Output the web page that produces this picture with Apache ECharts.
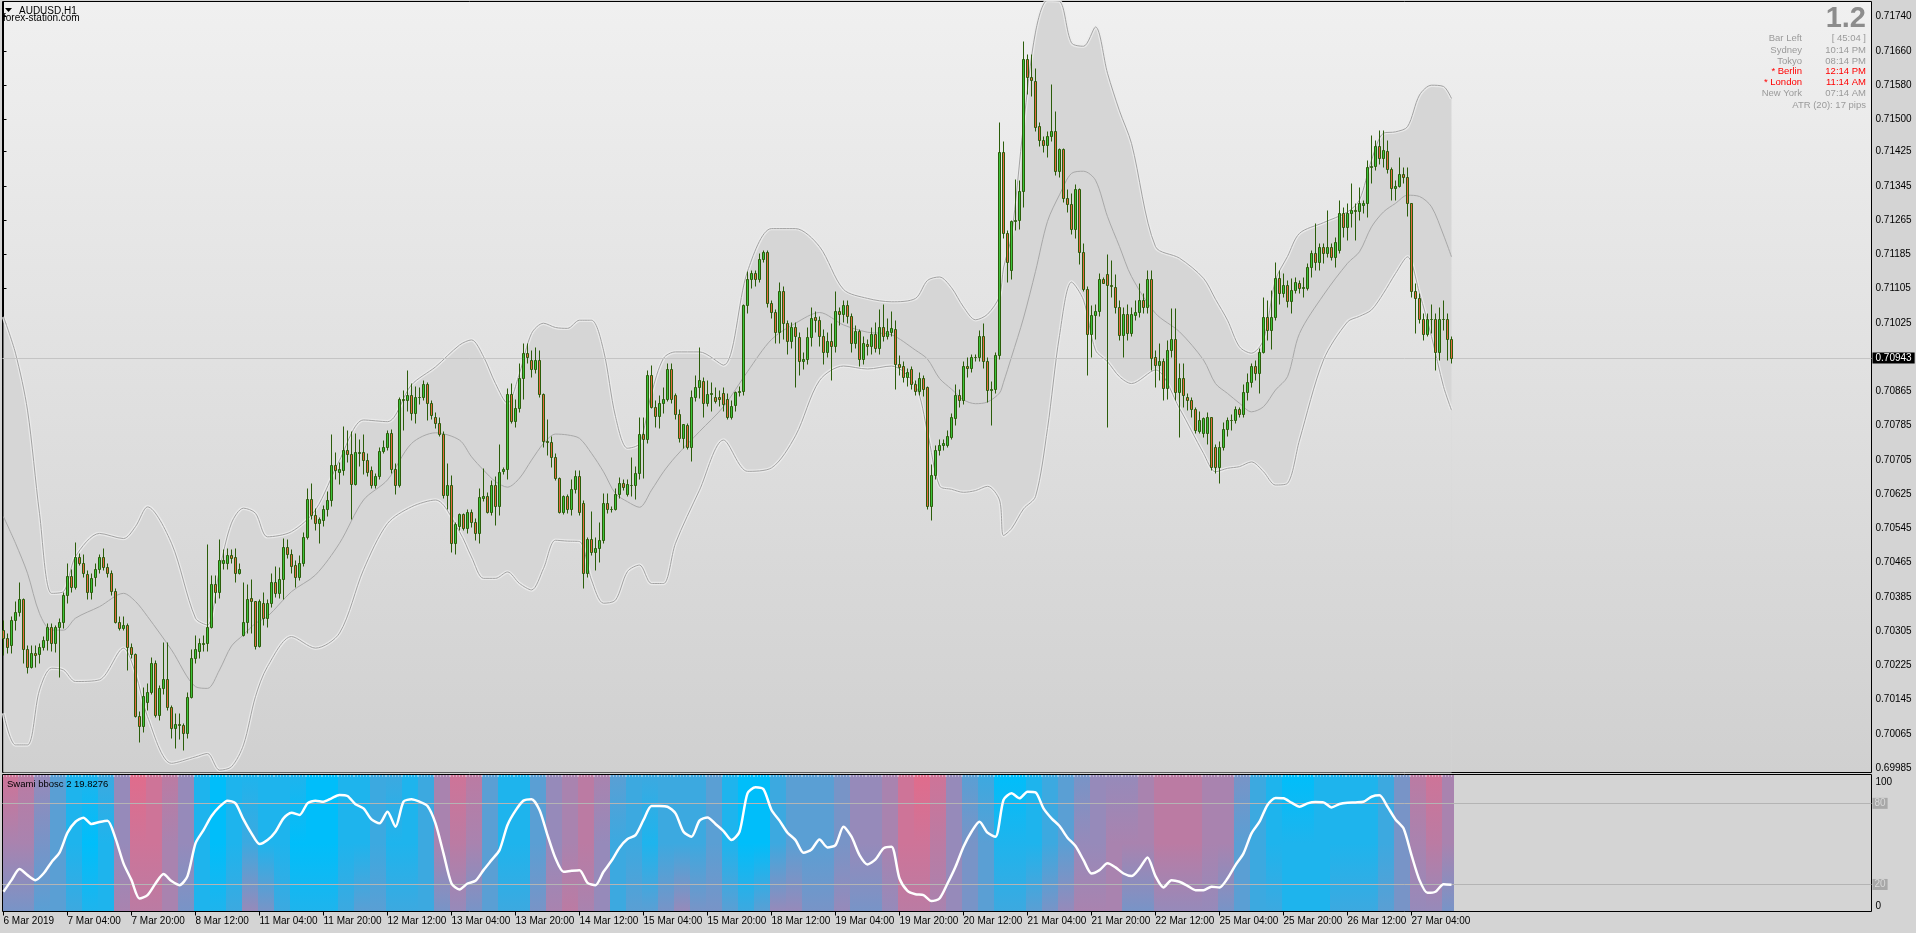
<!DOCTYPE html>
<html><head><meta charset="utf-8">
<script src="https://cdn.jsdelivr.net/npm/echarts@6/dist/echarts.min.js"></script>
<style>html,body{margin:0;padding:0;background:#d4d4d4;overflow:hidden}#c{width:1916px;height:933px}</style>
</head><body><div id="c"></div>
<script>
// ---------- DATA (prices stored as points above BASE; 1 point = 0.00001) ----------
const BASE = 0.70000, POINT = 0.00001;
const symbolTitle = 'AUDUSD,H1';
const siteTitle = 'forex-station.com';
const spreadValue = '1.2';
const infoRows = [['Bar Left','[ 45:04 ]',0],['Sydney','10:14 PM',0],['Tokyo','08:14 PM',0],['* Berlin','12:14 PM',1],['* London','11:14 AM',1],['New York','07:14 AM',0]];
const atrText = 'ATR (20): 17 pips';
const oscName = 'Swami bbosc 2';
const oscLastValue = 19.8276;
const currentPrice = 0.70943;
const priceTicks = [0.71740,0.71660,0.71580,0.71500,0.71425,0.71345,0.71265,0.71185,0.71105,0.71025,0.70865,0.70785,0.70705,0.70625,0.70545,0.70465,0.70385,0.70305,0.70225,0.70145,0.70065,0.69985];
const timeLabels = ['6 Mar 2019','7 Mar 04:00','7 Mar 20:00','8 Mar 12:00','11 Mar 04:00','11 Mar 20:00','12 Mar 12:00','13 Mar 04:00','13 Mar 20:00','14 Mar 12:00','15 Mar 04:00','15 Mar 20:00','18 Mar 12:00','19 Mar 04:00','19 Mar 20:00','20 Mar 12:00','21 Mar 04:00','21 Mar 20:00','22 Mar 12:00','25 Mar 04:00','25 Mar 20:00','26 Mar 12:00','27 Mar 04:00'];
const timeLabelBars = [0,16,32,48,64,80,96,112,128,144,160,176,192,208,224,240,256,272,288,304,320,336,352];
const oscLevels = [80,20];
const oscAxisLabels = [0,100];

const opens = [307,288,272,331,350,379,264,222,254,251,
268,284,315,276,315,327,389,434,407,477,
465,438,397,432,449,477,454,441,399,327,
311,319,268,251,106,82,140,163,231,109,
173,192,128,78,88,85,66,152,241,259,
275,278,314,415,397,463,463,482,477,441,
296,327,381,374,270,371,335,371,420,393,
426,502,486,459,432,465,525,613,576,558,
564,591,611,693,677,681,729,719,648,720,
722,704,680,645,667,726,736,767,683,645,
846,845,856,815,851,852,883,837,804,790,
765,622,646,511,551,578,545,584,560,533,
615,620,584,646,597,679,683,859,796,825,
895,954,938,918,938,859,750,746,711,662,
584,620,589,636,667,605,441,520,490,498,
518,605,591,591,626,651,626,646,645,675,
765,753,903,829,807,837,848,916,856,813,
757,787,734,851,874,890,837,858,852,852,
860,846,804,832,863,865,1066,1128,1141,1128,
1174,1191,1072,1051,1003,1099,1024,982,1016,991,
936,941,991,1038,1032,995,957,982,970,1053,
1045,1066,1041,978,1005,941,976,970,999,966,
1016,995,1003,1010,928,924,899,916,882,865,
896,874,598,669,728,740,740,759,803,857,
845,924,920,945,944,993,935,867,871,949,
1424,1235,1149,1262,1266,1333,1641,1600,1589,1485,
1452,1441,1462,1474,1379,1430,1316,1303,1243,1337,
1191,1105,999,1043,1053,1127,1138,1113,1109,1061,
997,1045,1001,1043,1051,1078,1063,1127,944,926,
936,872,961,986,864,895,852,845,823,773,
767,767,804,736,689,736,776,798,799,823,
812,864,887,924,908,957,1039,1008,1039,1129,
1094,1113,1077,1102,1119,1106,1106,1156,1187,1167,
1203,1187,1203,1178,1195,1282,1249,1281,1288,1285,
1300,1304,1388,1391,1438,1409,1427,1384,1339,1345,
1372,1365,1304,1100,1082,1033,998,1033,1035,957,
1035,1035,986];
const highs = [331,300,339,374,420,381,272,272,272,278,
293,323,323,319,335,397,465,449,512,488,
486,448,440,463,486,500,463,448,405,339,
339,323,276,254,117,175,183,245,237,179,
280,280,132,113,114,89,163,262,296,288,
296,508,436,436,519,496,498,496,498,465,
420,415,426,376,379,397,379,440,457,454,
522,519,496,472,482,536,639,651,592,572,
600,631,766,722,700,785,774,773,767,754,
766,720,690,673,736,751,774,778,697,852,
868,915,884,878,876,891,887,845,817,804,
773,697,670,560,580,580,590,590,568,640,
686,630,658,667,741,689,872,884,848,930,
977,977,961,969,961,860,800,760,720,665,
623,625,660,682,682,611,525,585,525,560,
627,627,598,640,665,660,660,712,690,806,
806,915,926,845,856,876,930,930,860,823,
788,790,868,903,968,899,891,887,876,869,
874,862,845,866,878,1070,1145,1149,1149,1187,
1195,1195,1078,1058,1120,1112,1032,1028,1028,1003,
957,1016,1062,1053,1041,1011,1003,1024,1099,1062,
1078,1078,1049,1020,1011,995,986,1016,1028,1058,
1070,1036,1053,1032,949,936,920,924,891,911,
903,878,694,740,753,753,774,815,882,870,
936,945,953,953,1007,1024,945,890,957,1495,
1449,1241,1266,1362,1358,1683,1654,1654,1620,1495,
1462,1474,1583,1520,1433,1433,1337,1328,1349,1341,
1212,1112,1066,1070,1141,1133,1186,1172,1140,1078,
1063,1070,1063,1078,1117,1094,1148,1148,962,977,
942,985,1059,1059,930,930,860,852,829,820,
806,817,806,743,750,794,806,812,831,829,
883,907,930,938,965,1086,1078,1102,1168,1148,
1141,1125,1129,1133,1125,1133,1164,1195,1257,1211,
1211,1288,1211,1226,1312,1296,1304,1351,1304,1343,
1312,1405,1463,1452,1475,1475,1452,1390,1358,1413,
1390,1389,1304,1117,1094,1047,1047,1070,1048,1063,
1078,1047,993];
const lows = [249,253,253,307,339,230,208,218,222,230,
261,261,259,257,198,311,370,397,402,459,
432,379,379,410,441,448,432,389,323,307,
307,214,241,105,46,70,120,159,105,97,
159,120,54,31,52,27,54,148,231,241,
259,259,311,371,382,451,451,463,420,438,
293,300,300,262,268,319,315,362,385,382,
379,475,441,407,424,457,519,566,541,510,
551,573,598,660,648,670,700,567,645,690,
672,667,640,640,660,720,728,675,625,641,
774,820,797,792,835,844,798,800,780,760,
615,591,490,486,540,541,533,548,518,510,
608,580,575,553,577,672,661,790,782,816,
846,930,899,908,852,735,717,689,658,580,
578,581,576,627,577,406,432,482,448,466,
510,580,582,588,616,635,620,620,614,660,
662,745,825,782,780,815,843,838,800,747,
733,731,703,843,850,806,830,820,837,830,
820,801,800,820,853,857,1049,1107,1112,1120,
1166,1062,1036,978,978,986,953,966,874,903,
916,928,970,1003,970,928,945,891,957,1020,
1028,1024,957,966,924,928,949,953,957,953,
982,986,995,871,903,886,878,870,857,857,
853,590,565,660,715,728,735,753,786,828,
836,899,911,936,936,920,840,786,861,941,
1224,1120,1128,1241,1245,1295,1560,1554,1474,1437,
1424,1412,1449,1370,1366,1308,1283,1233,1224,1162,
1099,903,945,986,1041,1117,782,1086,1047,985,
946,985,993,1031,1039,1047,1047,915,876,891,
845,846,946,845,758,829,821,806,767,767,
759,743,681,674,650,728,760,774,790,806,
806,845,876,891,862,954,985,963,1031,1070,
1086,1063,1047,1094,1094,1086,1102,1133,1148,1148,
1164,1179,1172,1156,1187,1226,1218,1249,1218,1265,
1281,1273,1351,1382,1397,1390,1374,1312,1312,1343,
1351,1274,1085,1000,1024,985,993,1000,914,938,
1008,938,930];
const closes = [288,268,331,350,379,262,222,254,249,268,
284,315,276,315,327,389,434,407,477,465,
440,397,430,449,477,454,441,399,327,311,
319,268,251,106,82,153,163,231,109,173,
192,127,78,88,86,66,152,241,262,276,
278,314,415,397,472,472,482,475,441,451,
327,379,374,270,374,335,371,420,393,426,
502,486,457,432,465,525,613,576,558,566,
591,611,693,681,683,729,719,648,722,724,
704,677,645,667,726,736,767,683,645,846,
845,856,815,851,852,883,837,809,790,765,
622,646,511,555,578,545,584,560,533,619,
620,584,646,597,677,683,859,796,825,895,
954,944,918,938,859,750,746,711,662,584,
620,589,636,667,584,441,520,490,498,518,
605,589,591,626,650,642,648,645,675,765,
753,903,829,807,837,848,916,848,813,757,
788,734,851,874,891,837,859,860,843,846,
835,804,830,863,865,1066,1128,1141,1128,1174,
1191,1072,1051,1003,1099,1024,982,1016,995,935,
941,991,1036,1032,995,957,982,970,1053,1045,
1066,1041,978,1005,941,978,971,999,966,1016,
995,1005,1013,928,921,899,911,882,865,896,
870,598,669,728,740,744,761,804,857,845,
924,920,945,944,993,935,867,871,949,1424,
1235,1168,1262,1265,1333,1641,1600,1591,1483,1452,
1441,1462,1474,1379,1430,1316,1303,1243,1337,1191,
1105,999,1043,1053,1128,1119,1113,1111,1061,997,
1045,1001,1045,1051,1078,1063,1127,942,926,936,
872,961,986,864,895,856,845,823,774,798,
802,804,687,689,736,778,798,799,823,812,
864,887,924,908,957,1039,1008,1039,1129,1094,
1113,1077,1102,1121,1106,1108,1156,1187,1167,1203,
1187,1203,1178,1214,1282,1249,1281,1288,1285,1304,
1304,1388,1391,1438,1409,1429,1384,1339,1345,1372,
1365,1304,1100,1082,1033,998,1033,1035,957,1035,
1033,986,942];

// Bollinger bands, read at these bar indices
const bandIdx = [0,3,6,9,12,15,18,24,30,33,36,42,48,51,54,57,60,63,66,72,78,84,90,96,102,108,114,117,120,123,126,129,132,135,138,141,144,147,150,153,156,159,162,165,168,174,180,186,192,198,204,210,216,222,228,231,234,237,240,243,246,249,250,252,255,258,261,264,267,270,273,276,279,282,288,294,300,303,306,309,312,315,318,321,324,330,336,339,342,345,348,351,354,357,360,362];
const bandUpper = [1039,954,821,580,393,397,479,533,521,549,595,510,335,319,448,557,592,580,525,537,588,704,798,794,880,922,973,985,946,883,837,907,1000,1024,1014,1012,1031,1031,961,806,732,743,860,942,957,957,926,1145,1245,1245,1203,1103,1082,1074,1082,1124,1132,1107,1062,1032,1045,1087,1153,1228,1487,1704,1778,1776,1679,1671,1716,1608,1520,1444,1203,1176,1129,1080,1031,969,954,985,1125,1180,1234,1259,1284,1312,1405,1468,1471,1483,1557,1580,1577,1549];
const bandMid = [572,510,440,346,307,307,335,362,393,374,339,261,175,171,214,270,296,323,339,397,436,510,611,658,743,768,751,712,681,654,641,662,704,743,765,763,755,720,677,626,607,594,634,677,712,771,829,911,986,1024,1049,1020,1003,997,961,940,895,870,845,836,840,861,886,945,1036,1145,1262,1324,1374,1379,1358,1273,1203,1133,1047,1004,938,883,860,837,817,829,868,899,1000,1090,1164,1191,1249,1284,1304,1323,1320,1296,1230,1179];
const bandLower = [113,39,39,167,218,214,187,191,265,206,105,-4,11,19,-20,-12,39,152,222,292,265,300,448,556,595,611,537,478,428,428,443,416,401,451,517,515,514,424,370,377,444,459,416,416,510,634,751,678,686,761,890,924,917,924,878,769,644,636,629,633,643,611,528,544,590,619,778,995,1120,1078,961,934,899,883,915,825,720,677,685,689,700,677,646,650,751,938,1027,1040,1055,1094,1140,1179,1094,993,876,821];

// Oscillator line, one value every 2 bars
const oscStep = 2;
const oscValues = [14.6,23.2,31.4,26.9,23.2,28.1,36.5,43.5,58.3,66.4,
69.4,64.7,66.2,67.2,54.1,35.6,23.2,9.6,12.1,20.7,
27.7,22.5,19.5,26.2,50.4,60.2,70.6,77.5,82.0,80.0,
68.1,57.8,49.9,52.8,59.0,68.9,73.1,71.4,80.0,82.0,
81.2,83.7,86.2,85.4,79.3,76.3,68.1,65.2,73.8,62.7,
81.2,83.0,81.2,78.0,65.2,43.0,20.7,16.3,20.7,22.7,
30.6,38.0,45.4,64.0,74.6,82.0,83.0,75.1,56.5,39.3,
29.4,30.1,30.6,21.2,19.5,29.4,37.5,47.2,53.6,56.5,
67.7,78.0,78.0,77.5,72.6,59.0,55.3,67.2,69.6,64.7,
59.5,52.8,59.0,87.4,91.9,90.4,75.1,67.2,58.3,52.8,
43.5,45.9,53.3,47.4,49.1,62.7,55.3,41.7,34.8,38.5,
46.7,47.9,24.4,15.3,12.8,12.1,7.7,9.6,20.7,33.1,
47.9,59.0,66.4,58.3,55.3,82.5,87.4,83.7,88.6,88.1,
76.3,68.9,63.2,54.6,48.4,38.0,28.1,30.6,35.6,32.6,
28.1,26.2,31.9,40.0,26.2,17.8,23.2,22.0,19.0,15.8,
15.8,18.3,17.8,24.4,34.3,43.0,57.8,66.4,78.8,84.0,
83.7,80.5,77.5,80.0,81.0,80.7,77.0,79.5,80.5,80.7,
81.2,84.9,85.9,77.5,68.1,61.5,41.7,23.2,13.8,14.6,
20.2,19.8];

// Swami heat map: level 0 (bullish blue) .. 9 (bearish pink), one column per 4 bars; top / middle / bottom rows
const heatStep = 4;
const heatTop = [8,7,5,3,1,1,2,5,9,8, 7,5,1,0,1,1,1,1,1,0, 0,1,1,2,2,1,2,6,8,7, 3,1,1,3,5,6,7,6,3,2, 2,2,2,2,3,1,0,0,2,3, 3,3,4,5,5,6,8,9,8,5, 3,2,0,0,1,2,3,4,5,5, 5,6,7,7,7,6,6,4,2,1, 0,0,1,1,1,1,2,4,7,8, 6];
const heatMid = [6,6,4,3,1,0,1,5,8,8, 6,5,1,0,1,2,1,1,0,0, 0,1,1,2,1,1,2,6,7,6, 3,1,1,3,5,6,7,5,2,2, 1,2,2,2,3,1,0,0,2,3, 3,3,4,5,5,6,8,8,7,5, 4,3,1,1,1,2,3,5,5,6, 6,6,7,7,7,6,6,3,2,1, 1,1,1,1,1,1,2,4,6,7, 6];
const heatBot = [4,4,3,3,2,1,1,6,7,7, 6,4,1,1,2,5,4,2,1,1, 1,2,3,3,2,2,2,4,5,4, 3,2,2,4,6,7,6,5,2,3, 3,4,5,4,4,3,2,3,5,5, 4,4,5,4,4,5,7,7,6,5, 4,3,2,2,3,4,5,6,6,6, 4,4,5,5,5,5,4,3,2,2, 1,1,1,2,2,2,3,4,5,5, 4];

// ---------- RENDERING ----------
const px = o => BASE + o * POINT;
const lastBar = opens.length - 1;
const FONT = '"Liberation Sans", Arial, sans-serif';
const PRICE_MAX = 0.717755, PRICE_MIN = 0.699745;
const mainBg = {type:'linear', x:0, y:1.5, x2:0, y2:772.5, global:true,
  colorStops:[{offset:0,color:'#f0f0f0'},{offset:1,color:'#d0d0d0'}]};
const HEAT_STOPS = [[0,[0,190,250]],[5,[150,138,186]],[9,[224,108,140]]];
function heatColor(level){
  for (let j=0;j<HEAT_STOPS.length-1;j++){
    const a=HEAT_STOPS[j], b=HEAT_STOPS[j+1];
    if (level<=b[0]){ const t=(level-a[0])/(b[0]-a[0]);
      return 'rgb('+a[1].map((c,m)=>Math.round(c+(b[1][m]-c)*t)).join(',')+')'; }
  }
  return 'rgb('+HEAT_STOPS[HEAT_STOPS.length-1][1].join(',')+')';
}
const bandPts = arr => bandIdx.map((b,k)=>[b, px(arr[k])]);
const candleData = opens.map((o,i)=>[i, px(o), px(closes[i]), px(lows[i]), px(highs[i])]);
const heatData = heatTop.map((t,k)=>[k*heatStep, t, heatMid[k], heatBot[k]]);
const oscData = oscValues.map((v,k)=>[k*oscStep, v]);

const bandLine = (data, color, width, z) => ({type:'line', xAxisIndex:0, yAxisIndex:0, data, smooth:0.3,
  symbol:'none', showSymbol:false, silent:true, z, lineStyle:{color, width}});

const graphics = [
  {type:'polygon', shape:{points:[[5,8],[12,8],[8.5,12]]}, style:{fill:'#000'}, z:100},
  {type:'text', x:19, y:11, z:100, style:{text:symbolTitle, fill:'#000', font:'10px '+FONT, textAlign:'left', textVerticalAlign:'middle', align:'left', verticalAlign:'middle'}},
  {type:'text', x:3, y:18.5, z:100, style:{text:siteTitle, fill:'#000', font:'10px '+FONT, textAlign:'left', textVerticalAlign:'middle', align:'left', verticalAlign:'middle'}},
  {type:'text', x:1866, y:19, z:100, style:{text:spreadValue, fill:'#8c8c8c', font:'bold 29px '+FONT, textAlign:'right', textVerticalAlign:'middle', align:'right', verticalAlign:'middle'}},
  {type:'text', x:1866, y:105.3, z:100, style:{text:atrText, fill:'#9a9a9a', font:'9.5px '+FONT, textAlign:'right', textVerticalAlign:'middle', align:'right', verticalAlign:'middle'}},
  {type:'text', x:7, y:784.5, z:100, style:{text:oscName+' '+oscLastValue, fill:'#000', font:'9.5px '+FONT, textAlign:'left', textVerticalAlign:'middle', align:'left', verticalAlign:'middle'}}
];
const rowY = [38.7,50,61,71.7,82.7,93.3];
infoRows.forEach((r,k)=>{
  const col = r[2] ? '#ff0000' : '#9a9a9a';
  graphics.push({type:'text', x:1802, y:rowY[k], z:100, style:{text:r[0], fill:col, font:'9.5px '+FONT, textAlign:'right', textVerticalAlign:'middle', align:'right', verticalAlign:'middle'}});
  graphics.push({type:'text', x:1866, y:rowY[k], z:100, style:{text:r[1], fill:col, font:'9.5px '+FONT, textAlign:'right', textVerticalAlign:'middle', align:'right', verticalAlign:'middle'}});
});

const chart = echarts.init(document.getElementById('c'), null, {renderer:'canvas', width:1916, height:933});
chart.setOption({
  animation:false,
  backgroundColor:'#d4d4d4',
  textStyle:{fontFamily:FONT},
  grid:[
    {left:2.5, top:1.5, width:1869, height:771, show:true, borderColor:'#000', borderWidth:1, backgroundColor:mainBg},
    {left:2.5, top:774.5, width:1869, height:137, show:true, borderColor:'#000', borderWidth:1, backgroundColor:'#d4d4d4'}
  ],
  xAxis:[
    {type:'value', gridIndex:0, min:-0.25, max:467, show:false},
    {type:'value', gridIndex:1, min:-0.25, max:467, axisLine:{show:false}, splitLine:{show:false},
     axisTick:{show:true, customValues:timeLabelBars, length:4, lineStyle:{color:'#000', width:1}},
     axisLabel:{show:true, customValues:timeLabelBars, formatter:v=>timeLabels[timeLabelBars.indexOf(v)],
       align:'left', margin:5, fontSize:10, color:'#000', fontFamily:FONT}}
  ],
  yAxis:[
    {type:'value', gridIndex:0, position:'right', min:PRICE_MIN, max:PRICE_MAX, splitLine:{show:false},
     axisLine:{show:true, lineStyle:{color:'#000'}},
     axisTick:{show:true, customValues:priceTicks, length:3, lineStyle:{color:'#000'}},
     axisLabel:{show:true, customValues:priceTicks, formatter:v=>v.toFixed(5), margin:4, fontSize:10, color:'#000', fontFamily:FONT}},
    {type:'value', gridIndex:1, position:'right', min:0, max:101.33, splitLine:{show:false},
     axisLine:{show:true, lineStyle:{color:'#000'}},
     axisTick:{show:true, customValues:oscAxisLabels, length:3, lineStyle:{color:'#000'}},
     axisLabel:{show:true, customValues:oscAxisLabels, margin:4, fontFamily:FONT,
       formatter:v=> v>=100 ? '{t|'+v+'}' : '{b|'+v+'}',
       rich:{t:{padding:[12,0,0,0], fontSize:10, color:'#000', fontFamily:FONT}, b:{padding:[0,0,10,0], fontSize:10, color:'#000', fontFamily:FONT}}}}
  ],
  series:[
    {type:'line', xAxisIndex:0, yAxisIndex:0, data:bandPts(bandUpper), smooth:0.3, symbol:'none', showSymbol:false, silent:true, z:1,
     lineStyle:{width:0, opacity:0}, areaStyle:{color:'#d6d6d6', opacity:1, origin:'start'}},
    {type:'line', xAxisIndex:0, yAxisIndex:0, data:bandPts(bandLower), smooth:0.3, symbol:'none', showSymbol:false, silent:true, z:1,
     lineStyle:{width:0, opacity:0}, areaStyle:{color:mainBg, opacity:1, origin:'start'}},
    bandLine(bandPts(bandUpper), 'rgba(236,236,236,0.85)', 3.5, 2),
    bandLine(bandPts(bandLower), 'rgba(236,236,236,0.85)', 3.5, 2),
    bandLine(bandPts(bandUpper), '#a2a2a2', 1, 2),
    bandLine(bandPts(bandLower), '#a2a2a2', 1, 2),
    Object.assign(bandLine(bandPts(bandMid), '#a8a8a8', 1, 2), {
      markLine:{silent:true, z:3, symbol:'none', animation:false, precision:5, data:[{yAxis:currentPrice}],
        lineStyle:{color:'#c4c4c4', width:1, type:'solid'},
        label:{position:'end', formatter:currentPrice.toFixed(5), backgroundColor:'#000', color:'#fff',
          fontSize:10, fontFamily:FONT, padding:[1,3,0,3], distance:1}}}),
    {type:'custom', xAxisIndex:0, yAxisIndex:0, z:10, silent:true, data:candleData,
     encode:{x:0, y:[1,2,3,4]},
     renderItem:function(params, api){
       const x=api.value(0), o=api.value(1), c=api.value(2), l=api.value(3), h=api.value(4);
       const pO=api.coord([x,o]), pC=api.coord([x,c]), pL=api.coord([x,l]), pH=api.coord([x,h]);
       const cx=Math.floor(pO[0])+0.5;
       const snap=v=>Math.round(v)+0.5;
       const top=snap(Math.min(pO[1],pC[1])), bot=snap(Math.max(pO[1],pC[1]));
       const bull=c>=o;
       return {type:'group', children:[
         {type:'line', shape:{x1:cx,y1:snap(pH[1]),x2:cx,y2:snap(pL[1])}, style:{stroke:'#2b5d0a', lineWidth:1}},
         {type:'rect', shape:{x:cx-1, y:top, width:2, height:bot-top}, style:{fill:bull?'#3cc43c':'#e5683f', stroke:'#2b5d0a', lineWidth:1}}
       ]};
     }},
    {type:'custom', xAxisIndex:1, yAxisIndex:1, z:1, silent:true, data:heatData,
     encode:{x:0},
     renderItem:function(params, api){
       const b=api.value(0);
       const end=Math.min(b+heatStep, lastBar+1);
       const cs=params.coordSys;
       let x0=Math.round(api.coord([b-0.5,0])[0]);
       const x1=Math.round(api.coord([end-0.5,0])[0]);
       x0=Math.max(x0, Math.ceil(cs.x+0.5));
       return {type:'group', children:[
         {type:'rect', shape:{x:x0, y:cs.y+0.5, width:x1-x0, height:cs.height-1},
          style:{fill:{type:'linear', x:0, y:0, x2:0, y2:1, colorStops:[
            {offset:0,color:heatColor(api.value(1))},{offset:0.5,color:heatColor(api.value(2))},{offset:1,color:heatColor(api.value(3))}]}}},
         {type:'line', shape:{x1:x0, y1:cs.y+1.5, x2:x1, y2:cs.y+1.5},
          style:{stroke:'rgba(255,255,255,0.8)', lineWidth:1, lineDash:[1,2]}}
       ]};
     }},
    {type:'line', xAxisIndex:1, yAxisIndex:1, z:6, data:oscData, smooth:0.25, symbol:'none', showSymbol:false, silent:true,
     lineStyle:{color:'#ffffff', width:2.5},
     markLine:{silent:true, z:4, symbol:'none', animation:false, precision:2, data:oscLevels.map(v=>({yAxis:v})),
       lineStyle:{color:'#b4b4b4', width:1, type:'solid'},
       label:{position:'end', formatter:p=>String(p.value), backgroundColor:'#a8a8a8', color:'#d8d8d8',
         fontSize:10, fontFamily:FONT, padding:[1,2,0,2], distance:1}}}
  ],
  graphic:graphics
});
</script></body></html>
